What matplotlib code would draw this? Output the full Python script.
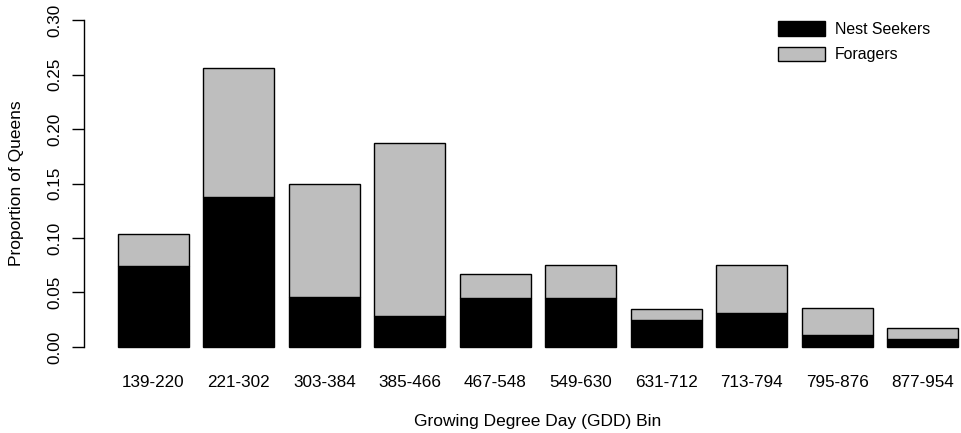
import numpy as np
import matplotlib.pyplot as plt

plt.rcParams['font.family'] = ['Liberation Sans', 'DejaVu Sans']

# GDD bins and proportion of queens in each behaviour class
bins = ['139-220', '221-302', '303-384', '385-466', '467-548',
        '549-630', '631-712', '713-794', '795-876', '877-954']
nest_seekers = [0.074, 0.138, 0.046, 0.028, 0.045, 0.045, 0.025, 0.031, 0.011, 0.007]
foragers = [0.030, 0.118, 0.104, 0.159, 0.022, 0.030, 0.010, 0.044, 0.025, 0.010]

fig = plt.figure(figsize=(9.62, 4.33), dpi=100)
ax = fig.add_axes([0.0874, 0.1686, 0.9437, 0.8148])

# barplot-style layout: width 1, gap 0.2
x = 0.7 + 1.2 * np.arange(len(bins))
ax.bar(x, nest_seekers, width=1.0, color='black', edgecolor='black',
       linewidth=1, label='Nest Seekers')
ax.bar(x, foragers, width=1.0, bottom=nest_seekers, color='#bebebe',
       edgecolor='black', linewidth=1, label='Foragers')

ax.set_xlim(-0.272, 12.472)
ax.set_ylim(-0.012, 0.312)

for side in ['top', 'right', 'bottom']:
    ax.spines[side].set_visible(False)
ax.spines['left'].set_bounds(0, 0.30)
ax.spines['left'].set_linewidth(1)

ax.set_yticks(np.arange(0, 0.31, 0.05))
ax.set_yticklabels(['%.2f' % v for v in np.arange(0, 0.31, 0.05)],
                   rotation=90, va='center', fontsize=12.3)
ax.tick_params(axis='y', length=9, width=1, pad=6.5)

ax.set_xticks(x)
ax.set_xticklabels(bins, fontsize=12.3)
ax.tick_params(axis='x', length=0, pad=11)

ax.set_xlabel('Growing Degree Day (GDD) Bin', fontsize=12.5, labelpad=17)
ax.set_ylabel('Proportion of Queens', fontsize=12.5, labelpad=17)

ax.legend(loc='upper left', bbox_to_anchor=(0.749, 1.0), frameon=False,
          fontsize=11.4, handlelength=2.95, handleheight=1.05,
          labelspacing=0.6, handletextpad=0.6)

fig.savefig('out.png', dpi=100)
